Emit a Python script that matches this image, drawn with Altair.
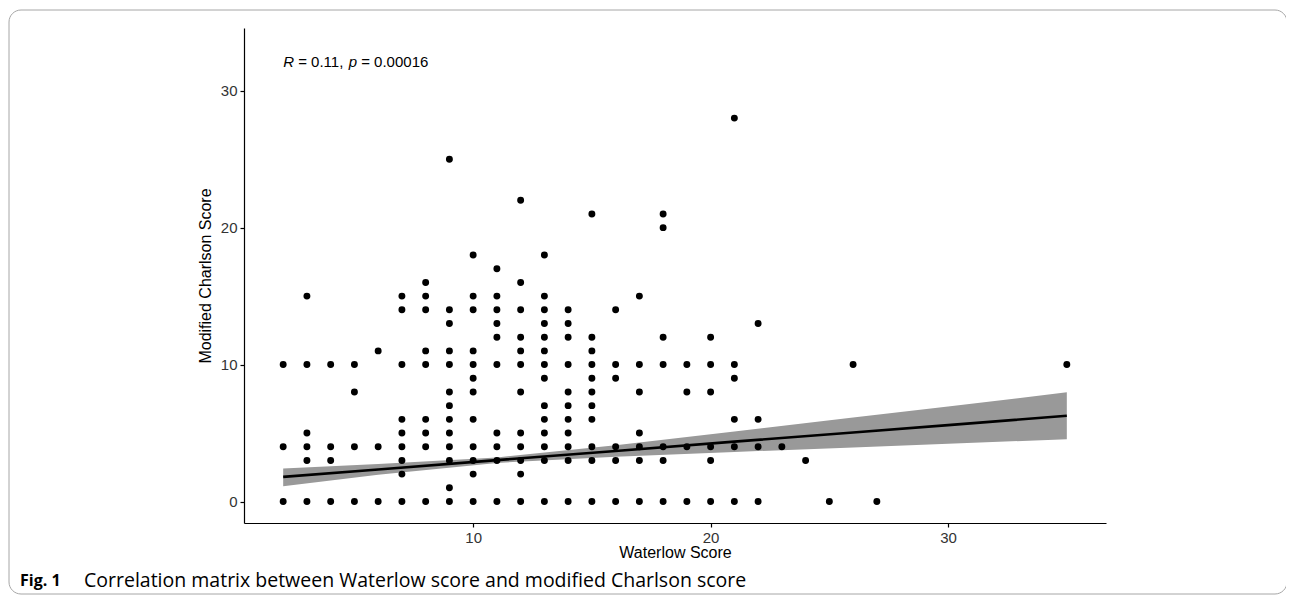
import altair as alt
import pandas as pd

# ---- data ----
waterlow = ([2]*3 + [3]*6 + [4]*4 + [5]*4 + [6]*3 + [7]*9 + [8]*9 + [9]*13 + [10]*12
            + [11]*10 + [12]*12 + [13]*14 + [14]*11 + [15]*11 + [16]*6 + [17]*7
            + [18]*7 + [19]*4 + [20]*6 + [21]*6 + [22]*4 + [23, 24, 25, 26, 27, 35])
charlson = ([10, 4, 0]
            + [15, 10, 5, 4, 3, 0]
            + [10, 4, 3, 0]
            + [10, 8, 4, 0]
            + [11, 4, 0]
            + [15, 14, 10, 6, 5, 4, 3, 2, 0]
            + [16, 15, 14, 11, 10, 6, 5, 4, 0]
            + [25, 14, 13, 11, 10, 8, 7, 6, 5, 4, 3, 1, 0]
            + [18, 15, 14, 11, 10, 9, 8, 6, 4, 3, 2, 0]
            + [17, 15, 14, 13, 12, 10, 5, 4, 3, 0]
            + [22, 16, 14, 12, 11, 10, 8, 5, 4, 3, 2, 0]
            + [18, 15, 14, 13, 12, 11, 10, 9, 7, 6, 5, 4, 3, 0]
            + [14, 13, 12, 10, 8, 7, 6, 5, 4, 3, 0]
            + [21, 12, 11, 10, 9, 8, 7, 6, 4, 3, 0]
            + [14, 10, 9, 4, 3, 0]
            + [15, 10, 8, 5, 4, 3, 0]
            + [21, 20, 12, 10, 4, 3, 0]
            + [10, 8, 4, 0]
            + [12, 10, 8, 4, 3, 0]
            + [28, 10, 9, 6, 4, 0]
            + [13, 6, 4, 0]
            + [4, 3, 0, 10, 0, 10])

# fitted line and confidence band
fit_x = [2, 6, 11, 16, 21, 26, 30, 35]
fit_y = [1.80, 2.34, 3.02, 3.69, 4.37, 5.04, 5.58, 6.26]
fit_lo = [1.12, 1.95, 2.82, 3.27, 3.62, 3.95, 4.22, 4.55]
fit_hi = [2.41, 2.73, 3.22, 4.11, 5.12, 6.13, 6.94, 7.97]

x_ticks = [10, 20, 30]
y_ticks = [0, 10, 20, 30]
x_domain = [0.35, 36.65]
y_domain = [-1.57, 34.58]

label_x = 2
label_y = 32.1
label_parts = ["R", "= 0.11,", "p", "= 0.00016"]
caption_bold = "Fig. 1"
caption_text = "Correlation matrix between Waterlow score and modified Charlson score"

pts = pd.DataFrame({"Waterlow Score": waterlow, "Modified Charlson Score": charlson})
fit = pd.DataFrame({"x": fit_x, "y": fit_y, "lo": fit_lo, "hi": fit_hi})
one = pd.DataFrame({"k": [0]})

FONT = "Liberation Sans"

xscale = alt.Scale(domain=x_domain, nice=False, zero=False)
yscale = alt.Scale(domain=y_domain, nice=False, zero=False)

xaxis = alt.Axis(values=x_ticks, title="Waterlow Score", grid=False)
yaxis = alt.Axis(values=y_ticks, title="Modified Charlson Score", grid=False)

band = alt.Chart(fit).mark_area(color="#999999", opacity=1).encode(
    x=alt.X("x:Q", scale=xscale, axis=xaxis),
    y=alt.Y("lo:Q", scale=yscale, axis=yaxis),
    y2="hi:Q",
)

points = alt.Chart(pts).mark_circle(size=48, color="black", opacity=1).encode(
    x=alt.X("Waterlow Score:Q", scale=xscale),
    y=alt.Y("Modified Charlson Score:Q", scale=yscale),
)

line = alt.Chart(fit).mark_line(color="black", strokeWidth=2.6).encode(
    x=alt.X("x:Q", scale=xscale),
    y=alt.Y("y:Q", scale=yscale),
)

# annotation with italic R and p (pieces placed side by side)
offsets = [0, 15.0, 65.5, 78.0]
styles = ["italic", "normal", "italic", "normal"]
ann_layers = []
for txt, dx, st in zip(label_parts, offsets, styles):
    ann_layers.append(
        alt.Chart(pd.DataFrame({"x": [label_x], "y": [label_y]})).mark_text(
            text=txt, align="left", baseline="middle", dx=dx, font=FONT,
            fontSize=15, fontStyle=st, color="black"
        ).encode(x=alt.X("x:Q", scale=xscale), y=alt.Y("y:Q", scale=yscale))
    )

frame = alt.Chart(one).mark_rect(
    fillOpacity=0, stroke="#a6a6a6", strokeWidth=1, cornerRadius=12
).encode(
    x=alt.value(-235), x2=alt.value(1043), y=alt.value(-18), y2=alt.value(566)
)

cap1 = alt.Chart(one).mark_text(
    text=caption_bold, align="left", baseline="middle", font="Open Sans",
    fontSize=16, fontWeight="bold", color="black"
).encode(x=alt.value(-224), y=alt.value(553))

cap2 = alt.Chart(one).mark_text(
    text=caption_text, align="left", baseline="middle", font="Open Sans",
    fontSize=19.5, color="black"
).encode(x=alt.value(-160), y=alt.value(553))

chart = alt.layer(band, points, line, *ann_layers, frame, cap1, cap2).properties(
    width=862,
    height=495,
    padding={"left": 236, "top": 20, "right": 180, "bottom": 72},
    autosize=alt.AutoSizeParams(type="none"),
).configure_view(stroke=None).configure_axis(
    domainColor="black",
    domainWidth=1.2,
    tickColor="black",
    tickWidth=1.2,
    tickSize=4,
    labelFont=FONT,
    labelFontSize=15,
    labelColor="#333333",
    labelPadding=3,
    titleFont=FONT,
    titleFontSize=16,
    titleFontWeight="normal",
    titleColor="black",
).configure_axisX(titlePadding=-1).configure_axisY(titlePadding=7)

chart.save("out.html", embed_options={"renderer": "svg", "actions": False})
